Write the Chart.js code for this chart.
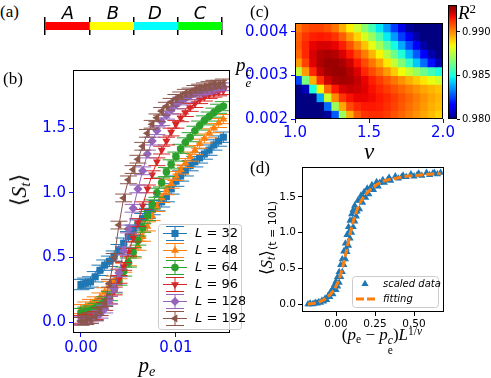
<!DOCTYPE html>
<html>
<head>
<meta charset="utf-8">
<script src="https://cdn.jsdelivr.net/npm/chart.js@4.4.1/dist/chart.umd.min.js"></script>
<style>
  body { margin:0; background:#fff; }
  #fig { position:relative; width:491px; height:378px; overflow:hidden; }
  canvas { position:absolute; }
  .t { position:absolute; white-space:nowrap; line-height:1; color:#000; }
  .serif { font-family:"Liberation Serif","DejaVu Serif",serif; font-style:normal; }
  .mi { font-family:"Liberation Serif","DejaVu Serif",serif; font-style:italic; }
  .sub { font-size:68%; position:relative; top:0.3em; }
  .sup { font-size:68%; position:relative; top:-0.45em; }
</style>
</head>
<body>
<div id="fig">
  <canvas id="ca" width="210" height="45" style="left:30px;top:0"></canvas>
  <canvas id="cb" width="245" height="318" style="left:0;top:60px"></canvas>
  <canvas id="cc" width="222" height="160" style="left:238px;top:0"></canvas>
  <canvas id="ccb" width="43" height="130" style="left:448px;top:0"></canvas>
  <canvas id="cd" width="241" height="218" style="left:250px;top:160px"></canvas>

  <!-- panel letters -->
  <div class="t serif" style="left:0;top:3px;font-size:17px">(a)</div>
  <div class="t serif" style="left:3px;top:70px;font-size:17px">(b)</div>
  <div class="t serif" style="left:250px;top:3px;font-size:17px">(c)</div>
  <div class="t serif" style="left:250px;top:159px;font-size:17px">(d)</div>

  <!-- (a) segment names -->
  <div class="t" style="left:68px;top:12px;transform:translate(-50%,-50%);font:italic 18px 'DejaVu Sans'">A</div>
  <div class="t" style="left:113px;top:12px;transform:translate(-50%,-50%);font:italic 18px 'DejaVu Sans'">B</div>
  <div class="t" style="left:155px;top:12px;transform:translate(-50%,-50%);font:italic 18px 'DejaVu Sans'">D</div>
  <div class="t" style="left:200px;top:12px;transform:translate(-50%,-50%);font:italic 18px 'DejaVu Sans'">C</div>

  <!-- (b) axis titles -->
  <div class="t" style="left:19px;top:190px;transform:translate(-50%,-50%) rotate(-90deg);font-size:22px"><span class="serif">⟨</span><span class="mi">S</span><span class="mi sub">t</span><span class="serif">⟩</span></div>
  <div class="t mi" style="left:147px;top:365px;transform:translate(-50%,-50%);font-size:21px">p<span class="sub">e</span></div>

  <!-- (c) axis titles -->
  <div class="t mi" style="left:236px;top:55px;font-size:19px">p<span style="display:inline-flex;flex-direction:column;font-size:68%;line-height:0.9;vertical-align:-0.35em"><span>c</span><span>e</span></span></div>
  <div class="t mi" style="left:369px;top:151px;transform:translate(-50%,-50%);font-size:23px">ν</div>
  <div class="t mi" style="left:458px;top:3px;font-size:19px">R<span class="sup serif">2</span></div>

  <!-- (d) axis titles -->
  <div class="t" style="left:266px;top:238px;transform:translate(-50%,-50%) rotate(-90deg);font-size:17px"><span class="serif">⟨</span><span class="mi">S</span><span class="mi sub">t</span><span class="serif">⟩</span><span style="font-family:'DejaVu Sans';font-size:11px;position:relative;top:4px">(t = 10L)</span></div>
  <div class="t" style="left:382px;top:341px;transform:translate(-50%,-50%);font-size:17px"><span class="serif">(</span><span class="mi">p</span><span class="serif sub">e</span><span class="serif"> − </span><span class="mi">p</span><span style="display:inline-flex;flex-direction:column;font-size:68%;line-height:0.9;vertical-align:-0.35em" class="serif"><span class="mi">c</span><span>e</span></span><span class="serif">)</span><span class="mi">L</span><span class="sup serif">1/<i>ν</i></span></div>
</div>

<script>
// ---- (a) regions along the line
const segEdges = [0, 1, 2, 3, 4];
const segColors = ['#ff0000', '#ffff00', '#00ffff', '#00ff00'];

// ---- (b) <S_t> vs p_e
const pe = [0, 0.0005, 0.001, 0.0015, 0.002, 0.0025, 0.003, 0.0035, 0.004, 0.0045, 0.005,
            0.0055, 0.006, 0.0065, 0.007, 0.0075, 0.008, 0.0085, 0.009, 0.0095, 0.01,
            0.0105, 0.011, 0.0115, 0.012, 0.0125, 0.013, 0.0135, 0.014, 0.0145, 0.015];
const sizes = [32, 48, 64, 96, 128, 192];
const st32  = [0.29,0.30,0.31,0.35,0.40,0.44,0.47,0.51,0.56,0.61,0.66,0.71,0.75,0.80,0.84,0.87,0.90,0.93,0.97,1.03,1.09,1.13,1.17,1.21,1.24,1.27,1.30,1.33,1.37,1.40,1.43];
const st48  = [0.10,0.12,0.14,0.16,0.19,0.23,0.28,0.32,0.37,0.42,0.47,0.53,0.59,0.66,0.74,0.82,0.89,0.96,1.02,1.07,1.13,1.18,1.23,1.28,1.33,1.38,1.42,1.46,1.50,1.54,1.57];
const st64  = [0.07,0.08,0.09,0.11,0.13,0.16,0.20,0.26,0.32,0.39,0.46,0.54,0.63,0.73,0.82,0.91,1.00,1.08,1.16,1.22,1.28,1.34,1.39,1.43,1.48,1.52,1.56,1.59,1.62,1.65,1.67];
const st96  = [0.02,0.03,0.04,0.05,0.08,0.12,0.17,0.24,0.33,0.43,0.54,0.65,0.77,0.90,1.03,1.14,1.24,1.33,1.40,1.47,1.53,1.58,1.62,1.66,1.69,1.72,1.74,1.76,1.77,1.78,1.79];
const st128 = [0.01,0.015,0.02,0.04,0.06,0.10,0.17,0.26,0.38,0.55,0.72,0.88,1.03,1.17,1.30,1.40,1.48,1.55,1.60,1.64,1.68,1.71,1.73,1.75,1.77,1.78,1.79,1.80,1.81,1.82,1.82];
const st192 = [0.005,0.01,0.02,0.04,0.08,0.15,0.30,0.50,0.75,0.96,1.10,1.18,1.26,1.36,1.46,1.53,1.58,1.63,1.67,1.70,1.73,1.75,1.77,1.78,1.80,1.81,1.82,1.83,1.84,1.84,1.85];
const stErr = [0.04, 0.035, 0.035, 0.03, 0.03, 0.03];
const xTicksB = [0, 0.01];
const yTicksB = [0, 0.5, 1.0, 1.5];

// ---- (c) R^2 map, rows from top (p_e^c = 0.0041) to bottom (0.0021)
const nuCenters = [1.025,1.075,1.125,1.175,1.225,1.275,1.325,1.375,1.425,1.475,1.525,1.575,1.625,1.675,1.725,1.775,1.825,1.875,1.925,1.975];
const pEdges = [0.0042,0.0040,0.0038,0.0036,0.0034,0.0032,0.0030,0.0028,0.0026,0.0024,0.0022,0.0020];
const r2Rows = [
  [0.9903,0.9908,0.9910,0.9910,0.9908,0.9903,0.9895,0.9886,0.9878,0.9868,0.9856,0.9846,0.9836,0.9824,0.9812,0.9803,0.9795,0.9795,0.9795,0.9795],
  [0.9906,0.9912,0.9915,0.9916,0.9915,0.9912,0.9906,0.9898,0.9890,0.9880,0.9870,0.9858,0.9847,0.9836,0.9824,0.9813,0.9804,0.9795,0.9795,0.9795],
  [0.9907,0.9914,0.9919,0.9921,0.9921,0.9919,0.9915,0.9908,0.9900,0.9892,0.9882,0.9872,0.9860,0.9849,0.9838,0.9826,0.9814,0.9804,0.9795,0.9795],
  [0.9905,0.9914,0.9921,0.9925,0.9926,0.9925,0.9921,0.9916,0.9909,0.9902,0.9894,0.9885,0.9875,0.9863,0.9851,0.9840,0.9828,0.9816,0.9805,0.9795],
  [0.9898,0.9910,0.9920,0.9926,0.9928,0.9928,0.9926,0.9922,0.9916,0.9909,0.9903,0.9896,0.9887,0.9877,0.9866,0.9854,0.9842,0.9830,0.9818,0.9806],
  [0.9875,0.9898,0.9914,0.9923,0.9927,0.9928,0.9928,0.9925,0.9920,0.9914,0.9909,0.9904,0.9898,0.9891,0.9884,0.9877,0.9870,0.9863,0.9856,0.9850],
  [0.9825,0.9865,0.9895,0.9913,0.9922,0.9926,0.9927,0.9926,0.9923,0.9919,0.9915,0.9911,0.9907,0.9903,0.9899,0.9895,0.9891,0.9887,0.9883,0.9879],
  [0.9795,0.9807,0.9850,0.9885,0.9905,0.9916,0.9921,0.9923,0.9922,0.9920,0.9917,0.9914,0.9911,0.9908,0.9905,0.9902,0.9899,0.9896,0.9894,0.9892],
  [0.9795,0.9795,0.9795,0.9838,0.9878,0.9900,0.9912,0.9917,0.9919,0.9919,0.9918,0.9916,0.9914,0.9911,0.9908,0.9905,0.9902,0.9899,0.9896,0.9894],
  [0.9795,0.9795,0.9795,0.9795,0.9830,0.9870,0.9896,0.9909,0.9914,0.9916,0.9916,0.9915,0.9913,0.9910,0.9907,0.9904,0.9901,0.9898,0.9895,0.9893],
  [0.9795,0.9795,0.9795,0.9795,0.9803,0.9828,0.9870,0.9895,0.9907,0.9912,0.9913,0.9913,0.9911,0.9908,0.9905,0.9902,0.9899,0.9896,0.9893,0.9890]
];
const cbRange = [0.980, 0.9931];
const cbTicks = [0.980, 0.985, 0.990];
const xTicksC = [1.0, 1.5, 2.0];
const yTicksC = [0.002, 0.003, 0.004];

// ---- (d) data collapse
const scaledX = [-0.18,-0.165,-0.15,-0.13,-0.11,-0.09,-0.07,-0.05,-0.035,-0.02,-0.01,0.00,0.01,0.02,0.03,0.04,0.05,0.06,0.07,0.08,
  0.09,0.10,0.11,0.12,0.14,0.16,0.18,0.20,0.23,0.26,0.30,0.34,0.38,0.43,0.48,0.53,0.58,0.63,0.67,
  -0.17,-0.14,-0.12,-0.10,-0.08,-0.06,-0.04,-0.02,0.00,0.01,0.02,0.03,0.04,0.05,0.06,0.07,0.08,0.09,0.10,0.11,
  0.12,0.13,0.15,0.17,0.19,0.21,0.24,0.27,0.31,0.35,0.40,0.45,0.50,0.55,0.60,0.65,
  0.045,0.065,0.085,0.105,0.125,0.135,0.155,0.175,0.22,0.28,0.33,0.42,0.52,0.62];
const scaledY = [0.00,0.01,0.00,0.02,0.03,0.05,0.08,0.12,0.17,0.22,0.27,0.32,0.38,0.45,0.55,0.63,0.74,0.85,0.97,1.08,
  1.17,1.26,1.32,1.38,1.45,1.52,1.57,1.62,1.67,1.71,1.74,1.77,1.79,1.80,1.82,1.83,1.84,1.84,1.84,
  0.00,0.01,0.01,0.02,0.04,0.06,0.10,0.14,0.20,0.25,0.30,0.38,0.45,0.55,0.63,0.73,0.82,0.92,1.00,1.08,
  1.16,1.23,1.33,1.42,1.49,1.54,1.60,1.65,1.70,1.73,1.76,1.78,1.79,1.80,1.81,1.82,
  0.55,0.78,1.02,1.18,1.30,1.30,1.45,1.50,1.62,1.70,1.74,1.78,1.81,1.83];
const fitX = [-0.18,-0.15,-0.12,-0.10,-0.08,-0.06,-0.04,-0.02,0.00,0.02,0.04,0.06,0.08,0.10,0.12,0.14,0.16,0.18,0.20,0.23,0.26,0.30,0.35,0.40,0.45,0.50,0.55,0.60,0.67];
const fitY = [0.00,0.01,0.02,0.04,0.06,0.09,0.13,0.18,0.25,0.35,0.50,0.68,0.88,1.07,1.23,1.35,1.44,1.51,1.56,1.62,1.67,1.72,1.75,1.77,1.79,1.80,1.81,1.82,1.83];
const xTicksD = [0, 0.25, 0.5];
const yTicksD = [0, 0.5, 1.0, 1.5];

const BLUE = '#0000ff';
const TAB = ['#1f77b4', '#ff7f0e', '#2ca02c', '#d62728', '#9467bd', '#8c564b'];
const marks = [
  {style: 'rect', rot: 0, r: 5},
  {style: 'triangle', rot: 0, r: 4.6},
  {style: 'circle', rot: 0, r: 3.8},
  {style: 'triangle', rot: 180, r: 4.6},
  {style: 'rectRot', rot: 0, r: 4.6},
  {style: 'triangle', rot: 270, r: 4.6}
];

// matplotlib "jet"
function jet(t) {
  t = Math.max(0, Math.min(1, t));
  const seg = pts => {
    for (let i = 1; i < pts.length; i++) {
      if (t <= pts[i][0]) {
        const [x0, y0] = pts[i - 1], [x1, y1] = pts[i];
        return y0 + (y1 - y0) * (t - x0) / (x1 - x0);
      }
    }
    return pts[pts.length - 1][1];
  };
  const r = seg([[0,0],[0.35,0],[0.66,1],[0.89,1],[1,0.5]]);
  const g = seg([[0,0],[0.125,0],[0.375,1],[0.64,1],[0.91,0],[1,0]]);
  const b = seg([[0,0.5],[0.11,1],[0.34,1],[0.65,0],[1,0]]);
  return 'rgb(' + Math.round(r * 255) + ',' + Math.round(g * 255) + ',' + Math.round(b * 255) + ')';
}

function linAxis(min, max, ticks, digits, color, size, pad, extra) {
  return Object.assign({
    type: 'linear', min: min, max: max, offset: false,
    afterBuildTicks: s => { s.ticks = ticks.map(v => ({value: v})); },
    ticks: {color: color, font: {family: 'DejaVu Sans', size: size}, padding: pad,
            autoSkip: false, maxRotation: 0, callback: v => v.toFixed(digits)},
    grid: {drawOnChartArea: false, drawTicks: true, tickLength: 4, color: color, lineWidth: 1, offset: false},
    border: {display: false}
  }, extra);
}
function fitW(w) { return s => { s.width = w; s.paddingTop = 0; s.paddingBottom = 0; s.paddingLeft = 0; s.paddingRight = 0; }; }
function fitH(h) { return s => { s.height = h; s.paddingTop = 0; s.paddingBottom = 0; s.paddingLeft = 0; s.paddingRight = 0; }; }

function base(padding) {
  return {
    responsive: false, animation: false, devicePixelRatio: 1, events: [],
    layout: {padding: padding},
    plugins: {legend: {display: false}, tooltip: {enabled: false}}
  };
}

const frame = {
  id: 'frame',
  afterDatasetsDraw(chart) {
    const a = chart.chartArea, c = chart.ctx;
    c.save();
    c.strokeStyle = '#000';
    c.lineWidth = 1;
    c.strokeRect(Math.round(a.left) + 0.5, Math.round(a.top) + 0.5,
                 Math.round(a.right - a.left) - 1, Math.round(a.bottom - a.top) - 1);
    c.restore();
  }
};

// ---------- (a)
new Chart(document.getElementById('ca'), {
  type: 'bar',
  data: {
    labels: ['line'],
    datasets: segColors.map((col, i) => ({
      data: [[segEdges[i], segEdges[i + 1]]],
      backgroundColor: col, borderWidth: 0, barThickness: 7, inflateAmount: 0.5
    }))
  },
  options: Object.assign(base({left: 15, right: 18, top: 17, bottom: 10}), {
    indexAxis: 'y',
    scales: {
      y: {display: false, stacked: true},
      x: {type: 'linear', min: 0, max: 4, stacked: false, z: 1,
          afterBuildTicks: s => { s.ticks = segEdges.map(v => ({value: v})); },
          ticks: {display: false},
          grid: {color: '#000', lineWidth: 1.5, drawTicks: false, offset: false},
          border: {display: false},
          afterFit: fitH(0)}
    }
  })
});

// ---------- (b)
const allSt = [st32, st48, st64, st96, st128, st192];
const errBars = {
  id: 'errBars',
  beforeDatasetDraw(chart, args) {
    const ds = chart.data.datasets[args.index];
    if (!ds.err) return;
    const xs = chart.scales.x, ys = chart.scales.y, c = chart.ctx, a = chart.chartArea, cap = 8.5;
    c.save();
    c.beginPath(); c.rect(a.left, a.top, a.right - a.left, a.bottom - a.top); c.clip();
    c.strokeStyle = ds.borderColor; c.lineWidth = 1;
    c.beginPath();
    ds.data.forEach(pt => {
      const px = xs.getPixelForValue(pt.x);
      const y0 = ys.getPixelForValue(pt.y - ds.err), y1 = ys.getPixelForValue(pt.y + ds.err);
      c.moveTo(px, y0); c.lineTo(px, y1);
      c.moveTo(px - cap, y0); c.lineTo(px + cap, y0);
      c.moveTo(px - cap, y1); c.lineTo(px + cap, y1);
    });
    c.stroke();
    c.restore();
  }
};
const legendB = {
  id: 'legendB',
  afterDraw(chart) {
    const c = chart.ctx;
    c.save();
    c.beginPath();
    c.roundRect(158.5, 164.5, 83, 105, 3);
    c.fillStyle = 'rgba(255,255,255,0.8)'; c.fill();
    c.strokeStyle = '#cccccc'; c.lineWidth = 1; c.stroke();
    sizes.forEach((L, i) => {
      const cy = 173.5 + 17 * i, col = TAB[i], m = marks[i];
      c.strokeStyle = col; c.fillStyle = col; c.lineWidth = 1;
      c.beginPath();
      c.moveTo(163, cy); c.lineTo(187, cy);
      c.moveTo(175, cy - 7); c.lineTo(175, cy + 7);
      c.moveTo(166, cy - 7); c.lineTo(184, cy - 7);
      c.moveTo(166, cy + 7); c.lineTo(184, cy + 7);
      c.stroke();
      Chart.helpers.drawPoint(c, {pointStyle: m.style, rotation: m.rot, radius: m.r, borderWidth: 0}, 175, cy);
      c.fillStyle = '#000'; c.textBaseline = 'middle'; c.textAlign = 'left';
      c.font = 'italic 13px "DejaVu Sans"';
      c.fillText('L', 195, cy);
      const w = c.measureText('L').width;
      c.font = '13px "DejaVu Sans"';
      c.fillText(' = ' + L, 195 + w, cy);
    });
    c.restore();
  }
};
new Chart(document.getElementById('cb'), {
  type: 'line',
  data: {
    datasets: allSt.map((vals, i) => ({
      label: 'L = ' + sizes[i],
      data: pe.map((p, j) => ({x: p, y: vals[j]})),
      err: stErr[i],
      borderColor: TAB[i], backgroundColor: TAB[i], borderWidth: 1,
      pointStyle: marks[i].style, pointRotation: marks[i].rot, pointRadius: marks[i].r,
      pointBorderWidth: 0, tension: 0, fill: false, order: 5 - i
    }))
  },
  options: Object.assign(base({left: 0, top: 10, right: 15, bottom: 0}), {
    scales: {
      x: linAxis(-0.00084, 0.0157, xTicksB, 2, BLUE, 15, 2, {afterFit: fitH(45)}),
      y: linAxis(-0.085, 1.95, yTicksB, 1, BLUE, 15, 3, {afterFit: fitW(73)})
    }
  }),
  plugins: [errBars, frame, legendB]
});

// ---------- (c) heat map
new Chart(document.getElementById('cc'), {
  type: 'bar',
  data: {
    datasets: r2Rows.map((row, i) => ({
      data: row.map((v, j) => ({x: nuCenters[j], y: [pEdges[i + 1], pEdges[i]]})),
      backgroundColor: row.map(v => jet((v - cbRange[0]) / (cbRange[1] - cbRange[0]))),
      borderWidth: 0, barPercentage: 1, categoryPercentage: 1, inflateAmount: 0.6
    }))
  },
  options: Object.assign(base({left: 0, top: 23, right: 17, bottom: 0}), {
    scales: {
      x: linAxis(1.0, 2.0, xTicksC, 1, BLUE, 15, 1, {stacked: true, afterFit: fitH(41)}),
      y: linAxis(0.002, 0.0042, yTicksC, 3, BLUE, 15, 3, {stacked: false, afterFit: fitW(57)})
    }
  }),
  plugins: [frame]
});

// ---------- colour bar
new Chart(document.getElementById('ccb'), {
  type: 'bar',
  data: {
    labels: ['R2'],
    datasets: [{
      data: [cbRange],
      borderWidth: 0, barPercentage: 1, categoryPercentage: 1,
      backgroundColor: ctx => {
        const a = ctx.chart.chartArea;
        if (!a) return '#000080';
        const g = ctx.chart.ctx.createLinearGradient(0, a.bottom, 0, a.top);
        for (let k = 0; k <= 40; k++) g.addColorStop(k / 40, jet(k / 40));
        return g;
      }
    }]
  },
  options: Object.assign(base({left: 0, top: 5, right: 0, bottom: 11}), {
    scales: {
      x: {display: false},
      y: linAxis(cbRange[0], cbRange[1], cbTicks, 3, '#000', 10, 2,
                 {position: 'right', afterFit: fitW(34),
                  grid: {drawOnChartArea: false, drawTicks: true, tickLength: 3, color: '#000', lineWidth: 1, offset: false}})
    }
  }),
  plugins: [frame]
});

// ---------- (d)
const legendD = {
  id: 'legendD',
  afterDraw(chart) {
    const c = chart.ctx;
    c.save();
    c.beginPath();
    c.roundRect(102.5, 116.5, 86, 31, 3);
    c.fillStyle = 'rgba(255,255,255,0.8)'; c.fill();
    c.strokeStyle = '#cccccc'; c.lineWidth = 1; c.stroke();
    c.fillStyle = TAB[0];
    Chart.helpers.drawPoint(c, {pointStyle: 'triangle', rotation: 0, radius: 4.2, borderWidth: 0}, 115, 124);
    c.strokeStyle = TAB[1]; c.lineWidth = 3; c.setLineDash([8, 3]);
    c.beginPath(); c.moveTo(106, 139); c.lineTo(126, 139); c.stroke();
    c.setLineDash([]);
    c.fillStyle = '#000'; c.font = 'italic 10px "DejaVu Sans"';
    c.textBaseline = 'middle'; c.textAlign = 'left';
    c.fillText('scaled data', 133, 124);
    c.fillText('fitting', 133, 139);
    c.restore();
  }
};
new Chart(document.getElementById('cd'), {
  type: 'scatter',
  data: {
    datasets: [
      {type: 'line', data: fitX.map((x, i) => ({x: x, y: fitY[i]})),
       borderColor: TAB[1], borderWidth: 3, borderDash: [8, 3], pointRadius: 0,
       cubicInterpolationMode: 'monotone', fill: false, order: 0},
      {data: scaledX.map((x, i) => ({x: x, y: scaledY[i]})),
       backgroundColor: TAB[0], borderWidth: 0, pointBorderWidth: 0,
       pointStyle: 'triangle', pointRadius: 4.2, order: 1}
    ]
  },
  options: Object.assign(base({left: 0, top: 7, right: 47, bottom: 0}), {
    scales: {
      x: linAxis(-0.218, 0.692, xTicksD, 2, '#000', 10.5, 2, {afterFit: fitH(66)}),
      y: linAxis(-0.11, 1.92, yTicksD, 1, '#000', 10.5, 2, {afterFit: fitW(52)})
    }
  }),
  plugins: [frame, legendD]
});
</script>
</body>
</html>
